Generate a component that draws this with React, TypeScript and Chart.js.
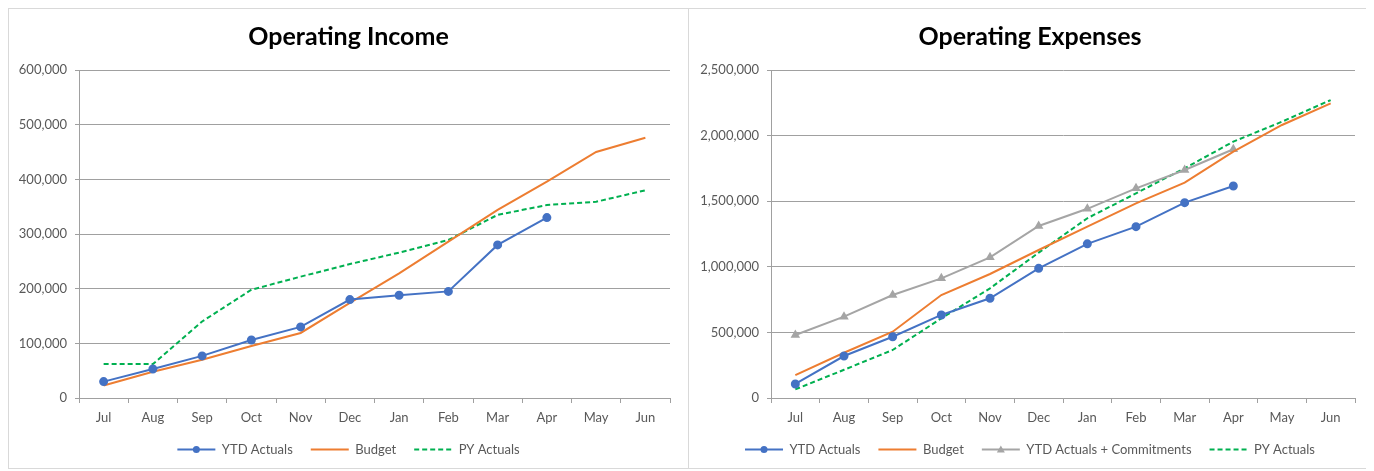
import React, { useEffect, useRef } from "react";
import { Chart, registerables } from "chart.js";

Chart.register(...registerables);

const months = ["Jul", "Aug", "Sep", "Oct", "Nov", "Dec", "Jan", "Feb", "Mar", "Apr", "May", "Jun"];

const incomeYtd = [30000, 53000, 77000, 106000, 130000, 180000, 188000, 195000, 280000, 330000, null, null];
const incomeBudget = [23000, 48000, 70000, 95000, 119000, 174000, 228000, 286000, 344000, 396000, 450000, 476000];
const incomePy = [62000, 62000, 140000, 198000, 222000, 245000, 266000, 289000, 335000, 353000, 359000, 380000];

const expYtd = [107000, 320000, 467000, 633000, 760000, 988000, 1175000, 1306000, 1489000, 1616000, null, null];
const expBudget = [175000, 345000, 505000, 785000, 945000, 1128000, 1306000, 1484000, 1641000, 1878000, 2081000, 2246000];
const expCommit = [480000, 620000, 785000, 912000, 1072000, 1311000, 1442000, 1598000, 1738000, 1896000, null, null];
const expPy = [66000, 215000, 366000, 607000, 836000, 1108000, 1370000, 1560000, 1751000, 1954000, 2106000, 2271000];

const FONT = "Lato, 'Open Sans', sans-serif";
const TEXT = "#595959";
const GRID = "#a0a0a0";
const BLUE = "#4472C4";
const ORANGE = "#ED7D31";
const GRAY = "#A5A5A5";
const GREEN = "#00B050";
const LEGEND_BOX = 38;

const legendMarkers = {
  id: "legendMarkers",
  afterDraw(chart: any) {
    const legend = chart.legend;
    if (!legend || !legend.legendHitBoxes || !legend.legendItems) return;
    const ctx = chart.ctx;
    legend.legendItems.forEach((item: any, i: number) => {
      const ds = chart.data.datasets[item.datasetIndex];
      const marker = ds.markerStyle;
      const box = legend.legendHitBoxes[i];
      if (!marker || !box) return;
      const cx = box.left + LEGEND_BOX / 2;
      const cy = box.top + box.height / 2;
      ctx.save();
      ctx.fillStyle = ds.borderColor;
      ctx.strokeStyle = ds.borderColor;
      ctx.setLineDash([]);
      ctx.beginPath();
      if (marker === "circle") {
        ctx.arc(cx, cy, 3.5, 0, Math.PI * 2);
      } else if (marker === "triangle") {
        ctx.moveTo(cx, cy - 4);
        ctx.lineTo(cx + 4, cy + 3);
        ctx.lineTo(cx - 4, cy + 3);
        ctx.closePath();
      }
      ctx.fill();
      ctx.restore();
    });
  },
};

type Props = {
  title: string;
  datasets: any[];
  yMax: number;
  yStep: number;
  width: number;
  height: number;
  yAxisWidth: number;
  rightGap: number;
};

function LineChart({ title, datasets, yMax, yStep, width, height, yAxisWidth, rightGap }: Props) {
  const ref = useRef<HTMLCanvasElement | null>(null);
  useEffect(() => {
    if (!ref.current) return;
    const chart = new Chart(ref.current, {
      type: "line",
      data: { labels: months, datasets },
      plugins: [legendMarkers],
      options: {
        animation: false,
        responsive: false,
        maintainAspectRatio: false,
        layout: { padding: { left: 0, right: 0, top: 0, bottom: 2 } },
        plugins: {
          title: {
            display: true,
            text: title,
            color: "#000",
            font: { family: FONT, size: 25, weight: "bold" },
            padding: { top: 13, bottom: 18 },
          },
          legend: {
            position: "bottom",
            labels: {
              color: TEXT,
              font: { family: FONT, size: 13 },
              usePointStyle: true,
              pointStyleWidth: LEGEND_BOX,
              boxHeight: 13,
              padding: 18,
              generateLabels: (c: any) =>
                (Chart.defaults.plugins.legend.labels as any).generateLabels(c).map((l: any) => {
                  const ds = c.data.datasets[l.datasetIndex];
                  return {
                    ...l,
                    pointStyle: "line",
                    lineDash: ds.borderDash || [],
                    lineWidth: 2,
                    strokeStyle: ds.borderColor,
                    fillStyle: ds.borderColor,
                  };
                }),
            },
          },
          tooltip: { enabled: false },
        },
        scales: {
          x: {
            offset: true,
            afterFit: (s: any) => {
              s.height = 27;
            },
            grid: { display: true, drawOnChartArea: false, drawTicks: true, tickLength: 5, color: GRID, offset: true },
            border: { display: true, color: GRID },
            ticks: { color: TEXT, font: { family: FONT, size: 13 }, padding: 7, maxRotation: 0 },
          },
          y: {
            min: 0,
            max: yMax,
            afterFit: (s: any) => {
              s.width = yAxisWidth;
            },
            grid: { color: GRID, tickLength: 4, drawTicks: true },
            border: { display: true, color: GRID },
            ticks: {
              stepSize: yStep,
              color: TEXT,
              font: { family: FONT, size: 13 },
              padding: 8,
              callback: (v: any) => Number(v).toLocaleString("en-US"),
            },
          },
          gap: {
            position: "right",
            display: true,
            min: 0,
            max: 1,
            afterFit: (s: any) => {
              s.width = rightGap;
            },
            grid: { display: false, drawTicks: false },
            border: { display: false },
            ticks: { display: false },
          },
        },
      } as any,
    });
    return () => chart.destroy();
  }, []);
  return <canvas ref={ref} width={width} height={height} style={{ display: "block", width, height }} />;
}

const line = (label: string, data: (number | null)[], color: string, extra: any = {}) => ({
  label,
  data,
  borderColor: color,
  backgroundColor: color,
  borderWidth: 2,
  pointRadius: 0,
  tension: 0,
  spanGaps: false,
  ...extra,
});

export default function App() {
  const incomeSets = [
    line("YTD Actuals", incomeYtd, BLUE, { pointRadius: 3.5, pointStyle: "circle", markerStyle: "circle" }),
    line("Budget", incomeBudget, ORANGE),
    line("PY Actuals", incomePy, GREEN, { borderDash: [5, 3] }),
  ];
  const expSets = [
    line("YTD Actuals", expYtd, BLUE, { pointRadius: 3.5, pointStyle: "circle", markerStyle: "circle" }),
    line("Budget", expBudget, ORANGE),
    line("YTD Actuals + Commitments", expCommit, GRAY, { pointRadius: 3.5, pointStyle: "triangle", markerStyle: "triangle" }),
    line("PY Actuals", expPy, GREEN, { borderDash: [5, 3] }),
  ];
  const boxStyle: React.CSSProperties = {
    border: "1px solid #d9d9d9",
    background: "#fff",
    boxSizing: "content-box",
  };
  return (
    <div style={{ display: "flex", alignItems: "flex-start" }}>
      <div style={boxStyle}>
        <LineChart
          title="Operating Income"
          datasets={incomeSets}
          yMax={600000}
          yStep={100000}
          width={679}
          height={459}
          yAxisWidth={70}
          rightGap={18}
        />
      </div>
      <div style={{ ...boxStyle, marginLeft: -1 }}>
        <LineChart
          title="Operating Expenses"
          datasets={expSets}
          yMax={2500000}
          yStep={500000}
          width={682}
          height={459}
          yAxisWidth={82}
          rightGap={16}
        />
      </div>
    </div>
  );
}
